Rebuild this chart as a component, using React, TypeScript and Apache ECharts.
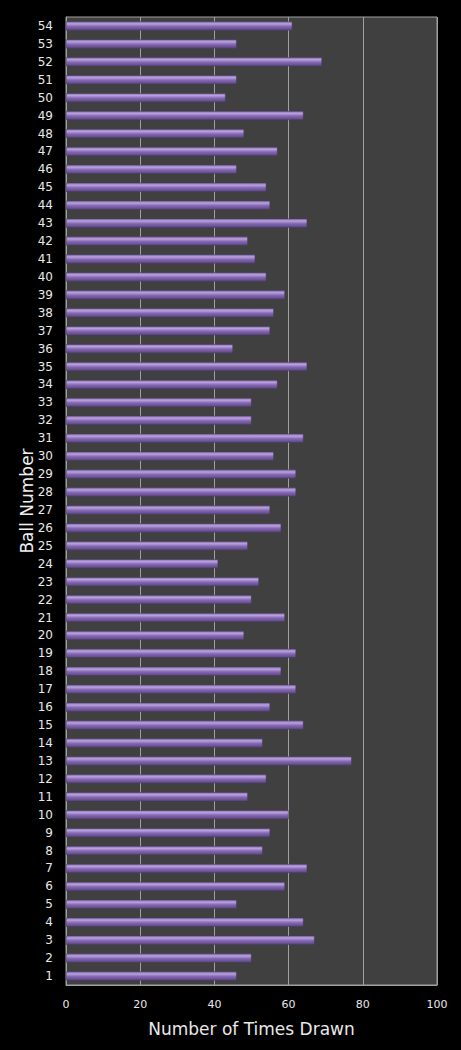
import React, { useEffect, useRef } from 'react';
import * as echarts from 'echarts';

// ball numbers 1..54, bottom to top
const balls: string[] = [
    '1', '2', '3', '4', '5', '6', '7', '8', '9', '10',
    '11', '12', '13', '14', '15', '16', '17', '18', '19', '20',
    '21', '22', '23', '24', '25', '26', '27', '28', '29', '30',
    '31', '32', '33', '34', '35', '36', '37', '38', '39', '40',
    '41', '42', '43', '44', '45', '46', '47', '48', '49', '50',
    '51', '52', '53', '54'
];

const timesDrawn: number[] = [
    46, 50, 67, 64, 46, 59, 65, 53, 55, 60,
    49, 54, 77, 53, 64, 55, 62, 58, 62, 48,
    59, 50, 52, 41, 49, 58, 55, 62, 62, 56,
    64, 50, 50, 57, 65, 45, 55, 56, 59, 54,
    51, 49, 65, 55, 54, 46, 57, 48, 64, 43,
    46, 69, 46, 61
];

const xTicks = { min: 0, max: 100, interval: 20 };

const FONT = '"DejaVu Sans", Verdana, sans-serif';

const App: React.FC = () => {
    const chartRef = useRef<HTMLDivElement | null>(null);

    useEffect(() => {
        if (!chartRef.current) return;

        const myChart = echarts.init(chartRef.current, null, { renderer: 'svg' });

        const option = {
            animation: false,
            backgroundColor: '#000000',
            grid: {
                left: 66,
                right: 24,
                top: 17,
                bottom: 65,
                show: true,
                backgroundColor: '#404040',
                borderColor: '#a0a0a0',
                borderWidth: 1
            },
            xAxis: {
                type: 'value',
                min: xTicks.min,
                max: xTicks.max,
                interval: xTicks.interval,
                name: 'Number of Times Drawn',
                nameLocation: 'middle',
                nameGap: 35,
                nameMoveOverlap: false,
                nameTextStyle: { color: '#e8e8e8', fontSize: 17, fontFamily: FONT },
                axisLine: { show: true, lineStyle: { color: '#a0a0a0' } },
                axisTick: { show: false },
                axisLabel: { color: '#e8e8e8', fontSize: 11, fontFamily: FONT, margin: 14 },
                splitLine: { show: true, lineStyle: { color: '#a0a0a0', width: 1 } }
            },
            yAxis: {
                type: 'category',
                data: balls,
                name: 'Ball Number',
                nameLocation: 'middle',
                nameGap: 31,
                nameMoveOverlap: false,
                nameRotate: 90,
                nameTextStyle: { color: '#f0f0f0', fontSize: 17, fontFamily: FONT },
                axisLine: { show: true, lineStyle: { color: '#a0a0a0' } },
                axisTick: { show: false },
                axisLabel: { color: '#e8e8e8', fontSize: 12, fontFamily: FONT, margin: 13, interval: 0 },
                splitLine: { show: false }
            },
            series: [
                {
                    name: 'Times Drawn',
                    type: 'bar',
                    data: timesDrawn,
                    barWidth: 9,
                    itemStyle: {
                        color: new echarts.graphic.LinearGradient(0, 0, 0, 1, [
                            { offset: 0, color: '#8a72b0' },
                            { offset: 0.25, color: '#b8a2de' },
                            { offset: 0.55, color: '#8768b4' },
                            { offset: 1, color: '#5b4682' }
                        ]),
                        borderColor: '#4a3a66',
                        borderWidth: 0.5
                    }
                }
            ]
        };

        myChart.setOption(option);

        return () => {
            myChart.dispose();
        };
    }, []);

    return (
        <div
            ref={chartRef}
            style={{ position: 'absolute', left: 0, top: 0, width: '461px', height: '1050px' }}
        />
    );
};

export default App;
